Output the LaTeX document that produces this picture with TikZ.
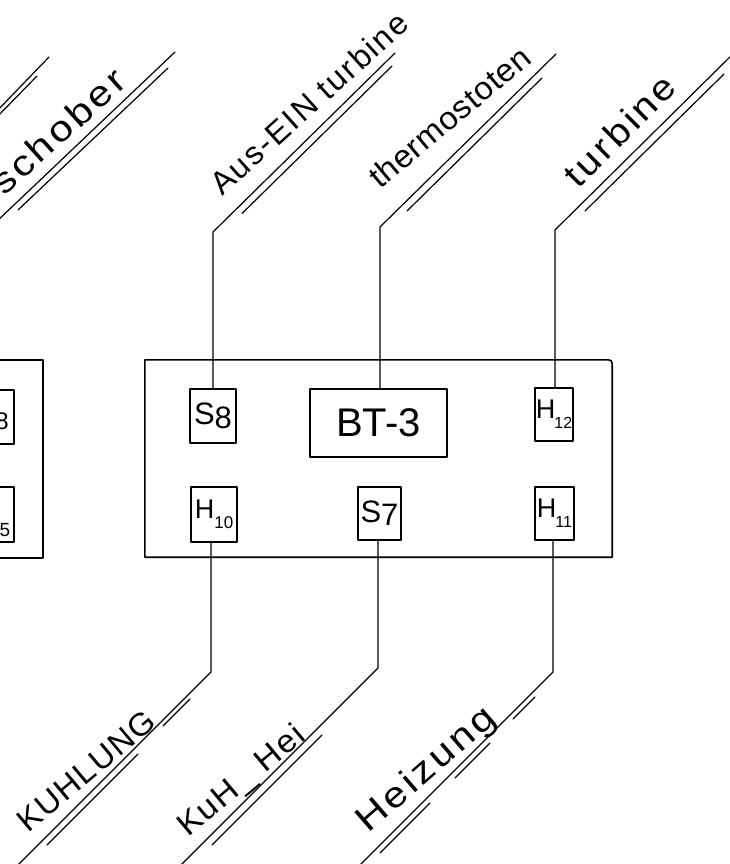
\documentclass[tikz,border=0pt]{standalone}
\usepackage{fontspec}
\setmainfont{Liberation Sans}
\usepackage{graphicx}
\newcommand\handlab[3]{\resizebox{#1}{\height}{\addfontfeature{LetterSpace=#2}#3}}
\begin{document}
\begin{tikzpicture}[x=1pt,y=-1pt,
  line cap=round, line join=round,
  frame/.style={line width=1.6pt},
  sbox/.style={draw, line width=1.4pt, inner sep=0pt, font=\fontsize{31}{31}\selectfont},
  hbox/.style={sbox, font=\fontsize{27}{27}\selectfont},
  wire/.style={line width=1.2pt},
  hand/.style={inner sep=0pt, anchor=base west, font=\fontsize{32}{32}\selectfont},
  bighand/.style={hand, font=\fontsize{36}{36}\selectfont}]
\useasboundingbox (0,0) rectangle (730,864);

% ---------- left partial unit ----------
\draw[frame] (-20,360) -- (43,360) -- (43,558) -- (-20,558);
\draw[line width=1.4pt] (-20,390) -- (14,390) -- (14,444) -- (-20,444);
\draw[line width=1.4pt] (-20,487) -- (14,487) -- (14,542) -- (-20,542);
\node[inner sep=0pt, font=\fontsize{24}{24}\selectfont] (p1) at (2,421) {8};
\node[inner sep=0pt, font=\fontsize{19}{19}\selectfont] (p2) at (5,530) {5};

% ---------- main unit ----------
\node[minimum width=467pt, minimum height=197pt, inner sep=0pt] (unit) at (378.5,458.5) {};
\draw[frame] (unit.north west) -- ([xshift=-8pt]unit.north east)
  .. controls (unit.north east) .. ([yshift=-8pt]unit.north east)
  -- (unit.south east) -- (unit.south west) -- cycle;

\node[sbox, minimum width=46pt, minimum height=54pt] (S8) at (213,416) {S\raisebox{-4pt}{8}};
\node[sbox, minimum width=137pt, minimum height=68pt, font=\fontsize{40}{40}\selectfont] (BT) at (378.5,423) {BT-3};
\node[hbox, minimum width=38pt, minimum height=53pt] (H12) at (554,414.5) {H\kern-1pt\raisebox{-10pt}{\fontsize{16}{16}\selectfont 12}};
\node[hbox, minimum width=46pt, minimum height=55pt] (H10) at (214,514.5) {H\raisebox{-10pt}{\fontsize{17}{17}\selectfont 10}};
\node[sbox, minimum width=43pt, minimum height=53pt] (S7) at (379.5,513.5) {S\raisebox{-3pt}{7}};
\node[hbox, minimum width=39pt, minimum height=53pt] (H11) at (554.5,513.5) {H\kern-1pt\raisebox{-10pt}{\fontsize{16}{16}\selectfont 11}};

% ---------- top leads ----------
\coordinate (cA) at (213,232); \coordinate (eA) at (395,53);
\coordinate (cB) at (380,227); \coordinate (eB) at (556,54);
\coordinate (cC) at (555,230); \coordinate (eC) at (740,47);
\draw[wire] (S8.north -| cA) -- (cA) -- (eA);
\draw[wire] (BT.north -| cB) -- (cB) -- (eB);
\draw[wire] (H12.north -| cC) -- (cC) -- (eC);
\draw[wire] (242,213.5) -- (392,66);
\draw[wire] (407,211) -- (542,78);
\draw[wire] (585,211) -- (724,74);

% far left lines
\draw[wire] (-5,223) -- (175,52);
\draw[wire] (18,210) -- (168,68);
\draw[wire] (-5,113) -- (49,57);
\draw[wire] (-5,119) -- (37,76);

% ---------- bottom leads ----------
\coordinate (cD) at (211,672); \coordinate (eD) at (3,880);
\coordinate (cE) at (378,668); \coordinate (eE) at (168,878);
\coordinate (cF) at (553,672); \coordinate (eF) at (345,880);
\draw[wire] (H10.south -| cD) -- (cD) -- (eD);
\draw[wire] (S7.south -| cE) -- (cE) -- (eE);
\draw[wire] (H11.south -| cF) -- (cF) -- (eF);
\draw[wire] (163,726) -- (190,699);
\draw[wire] (47,845) -- (138,754);
\draw[wire] (322,735) -- (212,845);
\draw[wire] (513,719) -- (535,697);
\draw[wire] (455,778) -- (490,743);
\draw[wire] (380,853) -- (430,803);

% ---------- labels ----------
\node[bighand, rotate=42] (tS) at (4,197) {\handlab{168pt}{8}{schober}};
\node[hand, rotate=42] (tA) at (222,197) {\handlab{254pt}{6}{Aus-EIN turbine}};
\node[hand, rotate=40] (tB) at (380,190) {\handlab{200pt}{2}{thermostoten}};
\node[bighand, rotate=45] (tC) at (578,190) {\handlab{142pt}{8}{turbine}};
\node[hand, rotate=40] (tD) at (28,834) {\handlab{170pt}{5}{KUHLUNG}};
\node[hand, rotate=40] (tE) at (188,838) {\handlab{155pt}{5}{KuH\_ Hei}};
\node[bighand, rotate=41] (tF) at (368,834) {\handlab{172pt}{8}{Heizung}};
\end{tikzpicture}
\end{document}
